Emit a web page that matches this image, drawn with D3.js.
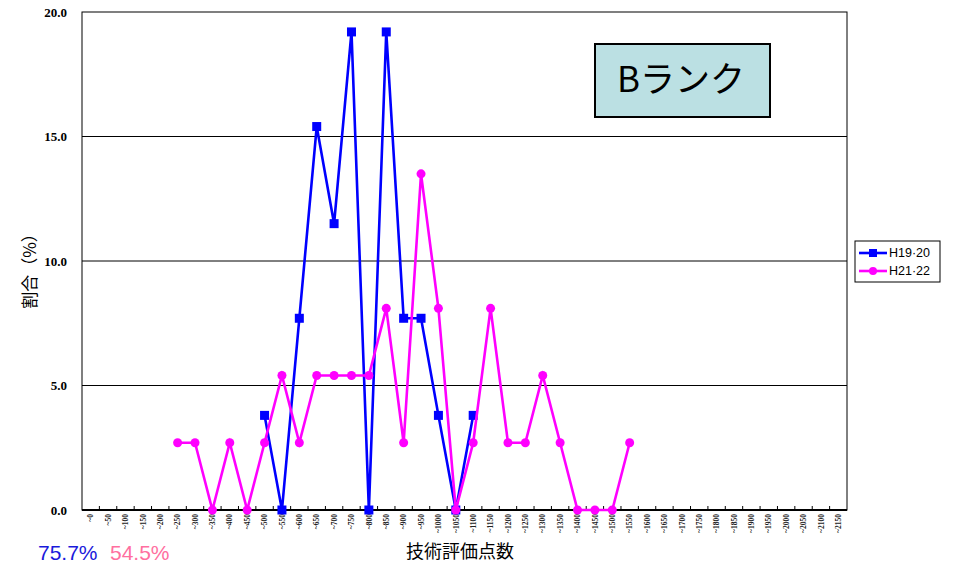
<!DOCTYPE html>
<html>
<head>
<meta charset="utf-8">
<script src="https://cdn.jsdelivr.net/npm/d3@7"></script>
<style>
  html, body { margin: 0; padding: 0; background: #fff; }
  svg { display: block; }
</style>
</head>
<body>
<svg id="chart" width="955" height="565"></svg>
<script>
// Score bands (技術評価点数) along the x axis
const categories = [
  "~0","~50","~100","~150","~200","~250","~300","~350","~400","~450",
  "~500","~550","~600","~650","~700","~750","~800","~850","~900","~950",
  "~1000","~1050","~1100","~1150","~1200","~1250","~1300","~1350","~1400","~1450",
  "~1500","~1550","~1600","~1650","~1700","~1750","~1800","~1850","~1900","~1950",
  "~2000","~2050","~2100","~2150"
];

// Share (%) per band; null where a period has no entry
const h1920 = [
  null,null,null,null,null,null,null,null,null,null,
  3.8,0,7.7,15.4,11.5,19.2,0,19.2,7.7,7.7,
  3.8,0,3.8,null,null,null,null,null,null,null,
  null,null,null,null,null,null,null,null,null,null,
  null,null,null,null
];
const h2122 = [
  null,null,null,null,null,2.7,2.7,0,2.7,0,
  2.7,5.4,2.7,5.4,5.4,5.4,5.4,8.1,2.7,13.5,
  8.1,0,2.7,8.1,2.7,2.7,5.4,2.7,0,0,
  0,2.7,null,null,null,null,null,null,null,null,
  null,null,null,null
];

const seriesNames = ["H19·20", "H21·22"];
const yTicks = [0, 5, 10, 15, 20];
const rankLabel = "Bランク";
const rates = ["75.7%", "54.5%"];

const svg = d3.select("#chart");
const plotL = 82, plotR = 847, plotT = 12, plotB = 510;

const x = d3.scaleBand().domain(categories).range([plotL, plotR]).padding(0);
const y = d3.scaleLinear().domain([0, 20]).range([plotB, plotT]);

// Gridlines
svg.append("g").selectAll("line")
  .data(yTicks.filter(t => t > 0 && t < 20))
  .join("line")
  .attr("x1", plotL).attr("x2", plotR)
  .attr("y1", d => y(d)).attr("y2", d => y(d))
  .attr("stroke", "#000").attr("stroke-width", 1);

// Plot frame
svg.append("rect")
  .attr("x", plotL).attr("y", plotT)
  .attr("width", plotR - plotL).attr("height", plotB - plotT)
  .attr("fill", "none").attr("stroke", "#000").attr("stroke-width", 1);

// Y axis labels
svg.append("g").selectAll("text")
  .data(yTicks)
  .join("text")
  .attr("x", 67).attr("y", d => y(d))
  .attr("dy", "0.35em")
  .attr("text-anchor", "end")
  .attr("font-family", "'Liberation Serif', 'Times New Roman', serif")
  .attr("font-weight", "bold")
  .attr("font-size", 13)
  .text(d => d.toFixed(1));

// X axis: ticks on band boundaries pointing into the plot
const xAxis = svg.append("g");
xAxis.append("line")
  .attr("x1", plotL).attr("x2", plotR)
  .attr("y1", plotB).attr("y2", plotB)
  .attr("stroke", "#000").attr("stroke-width", 2);
xAxis.selectAll("line.tick")
  .data(categories.slice(1))
  .join("line")
  .attr("class", "tick")
  .attr("x1", d => x(d)).attr("x2", d => x(d))
  .attr("y1", plotB).attr("y2", plotB - 4)
  .attr("stroke", "#000").attr("stroke-width", 1);
xAxis.selectAll("text")
  .data(categories)
  .join("text")
  .attr("transform", d => `translate(${x(d) + x.bandwidth() / 2 + 2.7},${plotB + 4}) rotate(-90)`)
  .attr("text-anchor", "end")
  .attr("font-family", "'Liberation Serif', 'Times New Roman', serif")
  .attr("font-weight", "bold")
  .attr("font-size", 7.5)
  .attr("fill", "#222")
  .text(d => d);

// Axis titles
svg.append("text")
  .attr("transform", "translate(36,267) rotate(-90)")
  .attr("text-anchor", "middle")
  .attr("font-family", "'Noto Sans CJK JP', sans-serif")
  .attr("font-size", 17)
  .text("割合（%）");
svg.append("text")
  .attr("x", 460).attr("y", 558)
  .attr("text-anchor", "middle")
  .attr("font-family", "'Noto Sans CJK JP', sans-serif")
  .attr("font-size", 18)
  .text("技術評価点数");

// Series lines and markers
const line = d3.line()
  .defined(d => d.v !== null)
  .x(d => x(d.c) + x.bandwidth() / 2)
  .y(d => y(d.v));

const series = [
  { name: seriesNames[0], values: h1920, color: "#0000ff", shape: "square" },
  { name: seriesNames[1], values: h2122, color: "#ff00ff", shape: "circle" }
];

series.forEach(s => {
  const pts = categories.map((c, i) => ({ c, v: s.values[i] }));
  svg.append("path")
    .datum(pts)
    .attr("fill", "none")
    .attr("stroke", s.color)
    .attr("stroke-width", 2.6)
    .attr("stroke-linejoin", "miter")
    .attr("d", line);
  const defined = pts.filter(d => d.v !== null);
  if (s.shape === "square") {
    svg.append("g").selectAll("rect")
      .data(defined)
      .join("rect")
      .attr("x", d => x(d.c) + x.bandwidth() / 2 - 4.5)
      .attr("y", d => y(d.v) - 4.5)
      .attr("width", 9).attr("height", 9)
      .attr("fill", s.color);
  } else {
    svg.append("g").selectAll("circle")
      .data(defined)
      .join("circle")
      .attr("cx", d => x(d.c) + x.bandwidth() / 2)
      .attr("cy", d => y(d.v))
      .attr("r", 4.5)
      .attr("fill", s.color);
  }
});

// Rank box
const box = svg.append("g");
box.append("rect")
  .attr("x", 595).attr("y", 44)
  .attr("width", 175).attr("height", 73)
  .attr("fill", "#bbe0e3")
  .attr("stroke", "#000").attr("stroke-width", 2);
box.append("text")
  .attr("x", 681).attr("y", 80)
  .attr("dy", "0.35em")
  .attr("text-anchor", "middle")
  .attr("font-family", "'Noto Sans CJK JP', sans-serif")
  .attr("font-size", 35)
  .text(rankLabel);

// Legend
const legend = svg.append("g");
legend.append("rect")
  .attr("x", 855).attr("y", 241)
  .attr("width", 85).attr("height", 41)
  .attr("fill", "#fff").attr("stroke", "#000").attr("stroke-width", 1);
series.forEach((s, i) => {
  const ly = 253 + i * 18;
  legend.append("line")
    .attr("x1", 859).attr("x2", 887)
    .attr("y1", ly).attr("y2", ly)
    .attr("stroke", s.color).attr("stroke-width", 2.6);
  if (s.shape === "square") {
    legend.append("rect")
      .attr("x", 873 - 4).attr("y", ly - 4)
      .attr("width", 8).attr("height", 8)
      .attr("fill", s.color);
  } else {
    legend.append("circle")
      .attr("cx", 873).attr("cy", ly).attr("r", 4)
      .attr("fill", s.color);
  }
  legend.append("text")
    .attr("x", 889).attr("y", ly)
    .attr("dy", "0.35em")
    .attr("font-family", "'Liberation Sans', Arial, sans-serif")
    .attr("font-size", 12.5)
    .text(s.name);
});

// Summary rates
svg.append("text")
  .attr("x", 38).attr("y", 560)
  .attr("font-family", "'Liberation Sans', Arial, sans-serif")
  .attr("font-size", 21)
  .attr("fill", "#1a1adb")
  .text(rates[0]);
svg.append("text")
  .attr("x", 110).attr("y", 560)
  .attr("font-family", "'Liberation Sans', Arial, sans-serif")
  .attr("font-size", 21)
  .attr("fill", "#ff6f9f")
  .text(rates[1]);
</script>
</body>
</html>
